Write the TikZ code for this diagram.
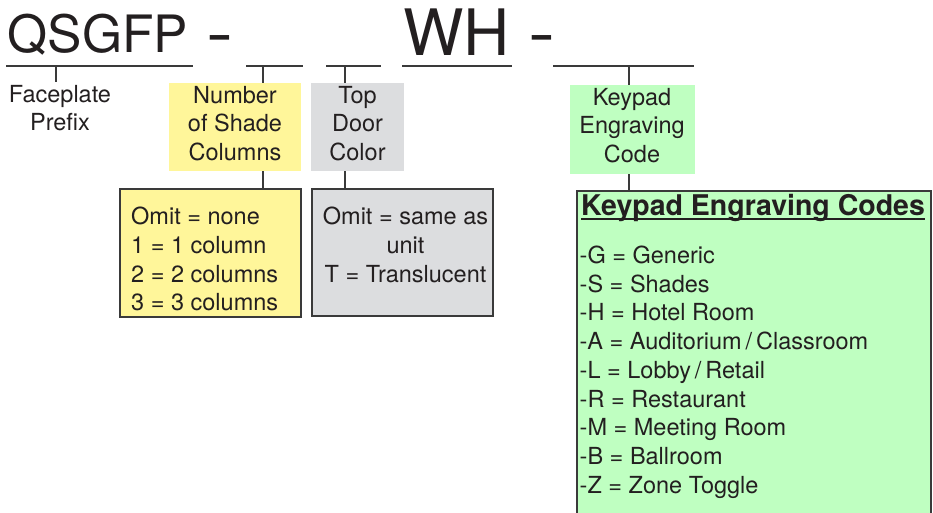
\documentclass[tikz,border=0pt]{standalone}
\usepackage{graphicx}
\usepackage{fontspec}
\setmainfont{TeX Gyre Heros}
\definecolor{txt}{HTML}{231F20}
\definecolor{ylw}{HTML}{FFF69A}
\definecolor{gry}{HTML}{DCDDDF}
\definecolor{grn}{HTML}{BFFFC1}
\definecolor{edge}{HTML}{3A3A3A}
\begin{document}
\begin{tikzpicture}[x=1pt,y=-1pt,
  big/.style={inner sep=0pt,anchor=base west,text=txt,font=\fontsize{51.5}{60}\selectfont},
  bigger/.style={inner sep=0pt,anchor=base west,text=txt,font=\fontsize{64}{72}\selectfont},
  dashtxt/.style={inner sep=0pt,anchor=base west,text=txt,font=\fontsize{64}{72}\selectfont},
  lbl/.style={inner sep=0pt,anchor=base,text=txt,font=\fontsize{23.5}{28}\selectfont},
  item/.style={inner sep=0pt,anchor=base west,text=txt,font=\fontsize{23.5}{28}\selectfont},
  ttl/.style={inner sep=0pt,anchor=base west,text=txt,font=\fontsize{28.5}{32}\selectfont\bfseries},
  rule/.style={draw=edge,line width=1.2pt},
  tick/.style={draw=edge,line width=1.2pt},
  fillbox/.style={inner sep=0pt,outer sep=0pt,anchor=north west},
  listbox/.style={fillbox,draw=edge,line width=1.4pt},
]
\useasboundingbox (0,0) rectangle (933,512);
\clip (0,0) rectangle (933,512);

% part number
\node[big] (qs) at (7.5,52.5) {QSGFP};
\node[dashtxt] (d1) at (206.4,55.5) {\scalebox{1.27}[1]{-}};
\node[bigger] (wh) at (403,55) {WH};
\node[dashtxt] (d2) at (528.4,55.5) {\scalebox{1.27}[1]{-}};

% underlines
\coordinate (u1a) at (6,66);   \coordinate (u1b) at (193,66);
\coordinate (u2a) at (246,66); \coordinate (u2b) at (303,66);
\coordinate (u3a) at (326,66); \coordinate (u3b) at (381,66);
\coordinate (u4a) at (402,66); \coordinate (u4b) at (512,66);
\coordinate (u5a) at (553,66); \coordinate (u5b) at (694,66);
\draw[rule] (u1a) -- (u1b);
\draw[rule] (u2a) -- (u2b);
\draw[rule] (u3a) -- (u3b);
\draw[rule] (u4a) -- (u4b);
\draw[rule] (u5a) -- (u5b);

% label boxes
\node[fillbox,fill=ylw,minimum width=132pt,minimum height=88pt] (nsc) at (169,83) {};
\node[fillbox,fill=gry,minimum width=93pt,minimum height=88pt] (tdc) at (311,83) {};
\node[fillbox,fill=grn,minimum width=125pt,minimum height=89pt] (kec) at (570,85) {};

% label texts
\node[lbl] (fp1) at (60,102) {Faceplate};
\node[lbl] (fp2) at (60,130) {Prefix};
\node[lbl] (n1) at (235,103) {Number};
\node[lbl] (n2) at (235,131.5) {of Shade};
\node[lbl] (n3) at (235,160) {Columns};
\node[lbl] (c1) at (357.5,103) {Top};
\node[lbl] (c2) at (357.5,131.5) {Door};
\node[lbl] (c3) at (357.5,160) {Color};
\node[lbl] (e1) at (632,105) {Keypad};
\node[lbl] (e2) at (632,133.5) {Engraving};
\node[lbl] (e3) at (632,162) {Code};

% list boxes
\node[listbox,fill=ylw,minimum width=181pt,minimum height=128pt] (ylist) at (120,189) {};
\node[listbox,fill=gry,minimum width=181pt,minimum height=127pt] (glist) at (312,189) {};
\node[listbox,fill=grn,minimum width=354pt,minimum height=340pt] (klist) at (577,191) {};

% ticks
\coordinate (tk1) at (56,66);  \coordinate (tk1e) at (56,82);
\coordinate (tk2) at (263,66);
\coordinate (tk3) at (345,66);
\coordinate (tk4) at (629,66);
\draw[tick] (tk1) -- (tk1e);
\draw[tick] (tk2) -- (tk2 |- nsc.north);
\draw[tick] (tk3) -- (tk3 |- tdc.north);
\draw[tick] (tk4) -- (tk4 |- kec.north);
\draw[tick] (tk2 |- nsc.south) -- (tk2 |- ylist.north);
\draw[tick] (tk3 |- tdc.south) -- (tk3 |- glist.north);
\draw[tick] (tk4 |- kec.south) -- (tk4 |- klist.north);

% yellow list
\node[item] (y1) at (131,224.5) {Omit = none};
\node[item] (y2) at (131,253.3) {1 = 1 column};
\node[item] (y3) at (131,282) {2 = 2 columns};
\node[item] (y4) at (131,310.8) {3 = 3 columns};

% gray list
\node[lbl] (g1) at (405.5,224.5) {Omit = same as};
\node[lbl] (g2) at (405.5,253) {unit};
\node[lbl] (g3) at (405.5,282) {T = Translucent};

% green list
\node[ttl] (kt) at (581,215) {Keypad Engraving Codes};
\draw[draw=txt,line width=2pt] ([yshift=-4pt]kt.base west) -- ([yshift=-4pt]kt.base east);
\foreach \t [count=\i from 0] in {{-G = Generic},{-S = Shades},{-H = Hotel Room},{-A = Auditorium\,/\,Classroom},{-L = Lobby\,/\,Retail},{-R = Restaurant},{-M = Meeting Room},{-B = Ballroom},{-Z = Zone Toggle}}
  \node[item] (k\i) at (579.5,{263.5+28.7*\i}) {\t};
\end{tikzpicture}
\end{document}
